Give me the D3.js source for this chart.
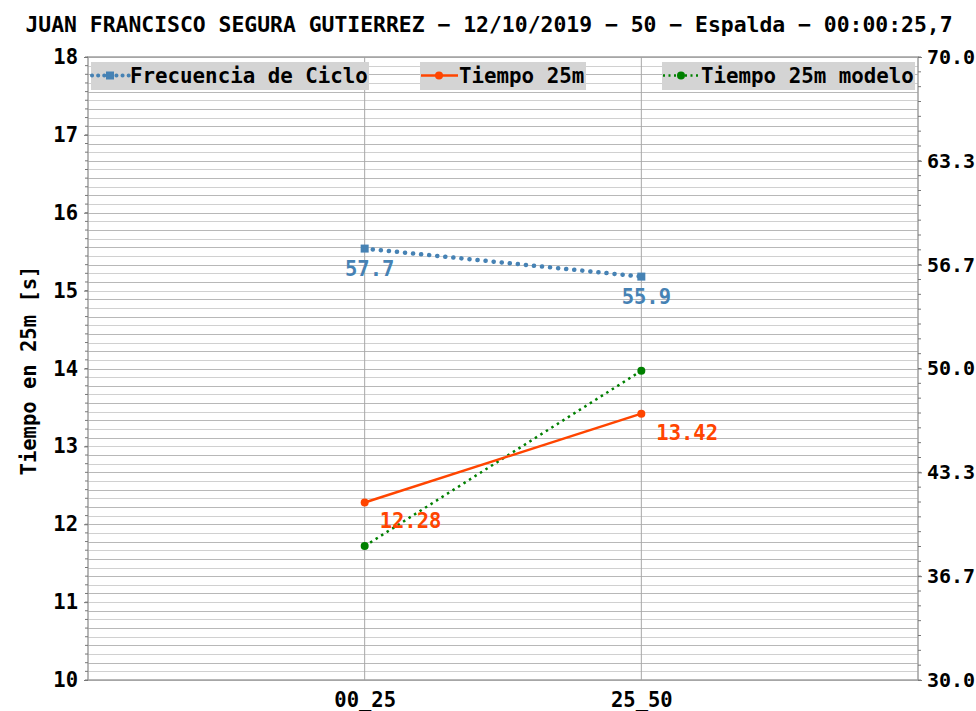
<!DOCTYPE html>
<html>
<head>
<meta charset="utf-8">
<script src="https://cdn.jsdelivr.net/npm/d3@7"></script>
<style>
  body { margin: 0; background: #fff; }
  text { font-family: "DejaVu Sans Mono", monospace; font-weight: bold; }
</style>
</head>
<body>
<div id="chart"></div>
<script>
const title = "JUAN FRANCISCO SEGURA GUTIERREZ \u2212 12/10/2019 \u2212 50 \u2212 Espalda \u2212 00:00:25,7";
const categories = ["00_25", "25_50"];
const frecuencia = [57.7, 55.9];
const tiempo = [12.28, 13.42];
const modelo = [11.72, 13.97];
const leftTicks = [10, 11, 12, 13, 14, 15, 16, 17, 18];
const rightTicks = [30, 36.667, 43.333, 50, 56.667, 63.333, 70];

const W = 976, H = 711;
const margin = {top: 57, right: 58, bottom: 31, left: 88};
const width = W - margin.left - margin.right,
      height = H - margin.top - margin.bottom;

const svg = d3.select("#chart").append("svg")
    .attr("width", W).attr("height", H);

svg.append("text")
    .attr("x", W / 2 + 1).attr("y", 32)
    .attr("text-anchor", "middle")
    .style("font-size", "21.4px")
    .text(title);

const g = svg.append("g")
    .attr("transform", "translate(" + margin.left + "," + margin.top + ")");

const x = d3.scalePoint().domain(categories).range([0, width]).padding(1);
const yL = d3.scaleLinear().domain([10, 18]).range([height, 0]);
const yR = d3.scaleLinear().domain([30, 70]).range([height, 0]);

// minor horizontal grid
const minorL = d3.range(0, 73).map(i => 10 + i / 9);
g.append("g").selectAll("line").data(minorL).enter().append("line")
    .attr("x1", 0).attr("x2", width)
    .attr("y1", d => Math.round(yL(d)) + 0.5).attr("y2", d => Math.round(yL(d)) + 0.5)
    .attr("stroke", (d, i) => i % 2 ? "#d0d0d0" : "#b8b8b8")
    .attr("stroke-width", 1.2);

// vertical grid
g.append("g").selectAll("line").data(categories).enter().append("line")
    .attr("x1", d => x(d)).attr("x2", d => x(d))
    .attr("y1", 0).attr("y2", height)
    .attr("stroke", "#a8a8a8").attr("stroke-width", 1);

// frame
g.append("rect").attr("x", 0).attr("y", 0).attr("width", width).attr("height", height)
    .attr("fill", "none").attr("stroke", "#a0a0a0").attr("stroke-width", 1.5);

// left axis
const axL = g.append("g").call(d3.axisLeft(yL).tickValues(leftTicks).tickFormat(d3.format("d")).tickSize(4).tickPadding(6));
axL.select(".domain").remove();
axL.selectAll("line").attr("stroke", "#777");
axL.selectAll("text").style("font-size", "20.5px").attr("fill", "#000");
g.append("g").selectAll("line").data(minorL).enter().append("line")
    .attr("x1", -3).attr("x2", 0)
    .attr("y1", d => yL(d)).attr("y2", d => yL(d))
    .attr("stroke", "#777");

// right axis
const axR = g.append("g").attr("transform", "translate(" + width + ",0)")
    .call(d3.axisRight(yR).tickValues(rightTicks).tickFormat(d3.format(".1f")).tickSize(4).tickPadding(5));
axR.select(".domain").remove();
axR.selectAll("line").attr("stroke", "#777");
axR.selectAll("text").style("font-size", "20px").attr("fill", "#000");
const minorR = d3.range(0, 43).map(i => 30 + i * 40 / 42);
g.append("g").selectAll("line").data(minorR).enter().append("line")
    .attr("x1", width).attr("x2", width + 3)
    .attr("y1", d => yR(d)).attr("y2", d => yR(d))
    .attr("stroke", "#777");

// bottom axis
const axB = g.append("g").attr("transform", "translate(0," + height + ")")
    .call(d3.axisBottom(x).tickSize(0).tickPadding(12));
axB.select(".domain").remove();
axB.selectAll("text").style("font-size", "20.5px").attr("fill", "#000");

// y title
svg.append("text")
    .attr("transform", "translate(36," + (margin.top + height / 2 + 2) + ") rotate(-90)")
    .attr("text-anchor", "middle")
    .style("font-size", "20.5px")
    .text("Tiempo en 25m [s]");

// series
const blue = "#4682b4", red = "#ff4500", green = "#008000";

g.append("path").datum(frecuencia)
    .attr("d", d3.line().x((d, i) => x(categories[i])).y(d => yR(d)))
    .attr("fill", "none").attr("stroke", blue).attr("stroke-width", 4.5)
    .attr("stroke-linecap", "round").attr("stroke-dasharray", "0.1 8");
g.append("g").selectAll("rect").data(frecuencia).enter().append("rect")
    .attr("x", (d, i) => x(categories[i]) - 4).attr("y", d => yR(d) - 4)
    .attr("width", 8).attr("height", 8).attr("fill", blue);
g.append("g").selectAll("text").data(frecuencia).enter().append("text")
    .attr("x", (d, i) => x(categories[i]) + 5).attr("y", d => yR(d) + 27)
    .attr("text-anchor", "middle").attr("fill", blue)
    .style("font-size", "20.5px").text(d => d.toFixed(1));

g.append("path").datum(modelo)
    .attr("d", d3.line().x((d, i) => x(categories[i])).y(d => yL(d)))
    .attr("fill", "none").attr("stroke", green).attr("stroke-width", 2.5)
    .attr("stroke-dasharray", "2.5 4");
g.append("g").selectAll("circle").data(modelo).enter().append("circle")
    .attr("cx", (d, i) => x(categories[i])).attr("cy", d => yL(d))
    .attr("r", 4).attr("fill", green);

g.append("path").datum(tiempo)
    .attr("d", d3.line().x((d, i) => x(categories[i])).y(d => yL(d)))
    .attr("fill", "none").attr("stroke", red).attr("stroke-width", 2.5);
g.append("g").selectAll("circle").data(tiempo).enter().append("circle")
    .attr("cx", (d, i) => x(categories[i])).attr("cy", d => yL(d))
    .attr("r", 4).attr("fill", red);
g.append("g").selectAll("text").data(tiempo).enter().append("text")
    .attr("x", (d, i) => x(categories[i]) + 15).attr("y", d => yL(d) + 26)
    .attr("fill", red)
    .style("font-size", "20.5px").text(d => d.toFixed(2));

// legend
const legend = [
  {name: "Frecuencia de Ciclo", color: blue, x0: 91, w: 278, dash: "0.1 6", mark: "square", sw: 4, cap: "round"},
  {name: "Tiempo 25m", color: red, x0: 420, w: 166, dash: null, mark: "circle", sw: 2.5, cap: "butt"},
  {name: "Tiempo 25m modelo", color: green, x0: 662, w: 253, dash: "2 3.5", mark: "circle", sw: 2.5, cap: "butt"}
];
const lg = svg.append("g").selectAll("g").data(legend).enter().append("g")
    .attr("transform", d => "translate(" + d.x0 + ",62)");
lg.append("rect").attr("width", d => d.w).attr("height", 28).attr("fill", "#d4d4d4");
lg.append("line").attr("x1", 1).attr("x2", 38).attr("y1", 13.5).attr("y2", 13.5)
    .attr("stroke", d => d.color).attr("stroke-width", d => d.sw)
    .attr("stroke-linecap", d => d.cap)
    .attr("stroke-dasharray", d => d.dash);
lg.filter(d => d.mark === "circle").append("circle")
    .attr("cx", 19).attr("cy", 13.5).attr("r", 4).attr("fill", d => d.color);
lg.filter(d => d.mark === "square").append("rect")
    .attr("x", 15).attr("y", 9.5).attr("width", 8).attr("height", 8).attr("fill", d => d.color);
lg.append("text").attr("x", 39).attr("y", 21)
    .style("font-size", "20.8px").attr("fill", "#000").text(d => d.name);
</script>
</body>
</html>
